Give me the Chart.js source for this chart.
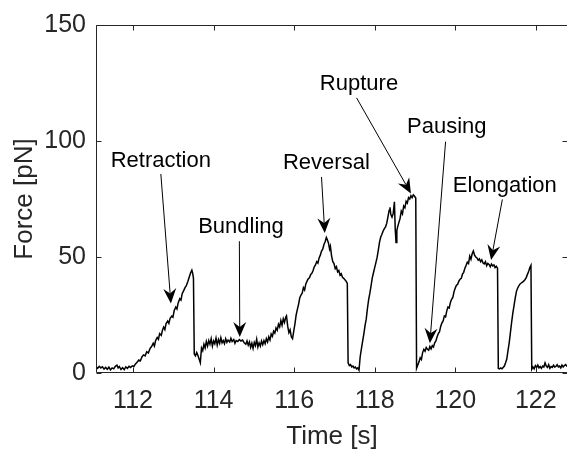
<!DOCTYPE html>
<html>
<head>
<meta charset="utf-8">
<script src="https://cdn.jsdelivr.net/npm/chart.js@4/dist/chart.umd.min.js"></script>
<style>
  html, body { margin: 0; padding: 0; background: #fff; overflow: hidden; }
  #wrap { width: 580px; height: 450px; }
</style>
</head>
<body>
<div id="wrap"><canvas id="c" width="580" height="450"></canvas></div>
<script>
// Optical-trap force trace: time in seconds, force in piconewtons
const timeS = [
  111.08,111.12,111.16,111.20,111.24,111.28,111.32,111.36,111.40,111.44,111.48,111.52,111.56,111.60,111.63,111.66,
  111.70,111.74,111.78,111.82,111.86,111.90,111.94,111.98,112.02,112.06,112.10,112.14,112.18,112.22,112.26,112.30,
  112.34,112.38,112.42,112.46,112.50,112.53,112.56,112.60,112.63,112.66,112.70,112.73,112.76,112.79,112.82,112.86,
  112.89,112.92,112.96,112.99,113.02,113.06,113.09,113.12,113.16,113.19,113.22,113.26,113.29,113.32,113.36,113.40,
  113.43,113.46,113.48,113.50,113.52,113.55,113.58,113.61,113.64,113.67,113.70,113.73,113.76,113.79,113.82,113.85,
  113.88,113.91,113.94,113.97,114.00,114.03,114.06,114.09,114.12,114.15,114.18,114.21,114.24,114.27,114.30,114.33,
  114.36,114.40,114.43,114.46,114.50,114.53,114.56,114.60,114.64,114.68,114.72,114.76,114.80,114.83,114.86,114.89,
  114.92,114.95,114.98,115.01,115.04,115.07,115.10,115.13,115.16,115.19,115.22,115.25,115.28,115.31,115.34,115.37,
  115.40,115.43,115.46,115.49,115.52,115.55,115.58,115.61,115.64,115.67,115.70,115.73,115.76,115.79,115.81,115.84,
  115.87,115.90,115.93,115.96,115.99,116.02,116.05,116.08,116.11,116.14,116.17,116.20,116.23,116.26,116.29,116.32,
  116.35,116.38,116.41,116.44,116.47,116.50,116.53,116.56,116.59,116.62,116.65,116.68,116.71,116.74,116.77,116.80,
  116.82,116.85,116.88,116.90,116.93,116.96,116.99,117.02,117.05,117.08,117.11,117.14,117.17,117.20,117.23,117.26,
  117.29,117.32,117.34,117.37,117.40,117.43,117.46,117.49,117.52,117.55,117.58,117.61,117.64,117.67,117.70,117.73,
  117.76,117.79,117.82,117.85,117.88,117.91,117.94,117.97,118.00,118.03,118.06,118.09,118.12,118.15,118.18,118.21,
  118.24,118.27,118.30,118.33,118.36,118.38,118.40,118.43,118.46,118.49,118.51,118.53,118.55,118.57,118.60,118.63,
  118.66,118.69,118.72,118.75,118.78,118.81,118.84,118.87,118.90,118.93,118.96,118.99,119.02,119.04,119.07,119.10,
  119.13,119.16,119.19,119.22,119.25,119.28,119.31,119.34,119.37,119.40,119.43,119.46,119.49,119.52,119.55,119.58,
  119.61,119.64,119.67,119.70,119.73,119.76,119.79,119.82,119.85,119.88,119.91,119.94,119.97,120.00,120.03,120.06,
  120.09,120.12,120.15,120.18,120.21,120.24,120.27,120.30,120.33,120.36,120.39,120.42,120.45,120.48,120.51,120.54,
  120.57,120.60,120.63,120.66,120.69,120.72,120.75,120.78,120.81,120.84,120.87,120.90,120.93,120.96,120.99,121.02,
  121.05,121.07,121.10,121.13,121.16,121.19,121.22,121.25,121.28,121.31,121.34,121.37,121.40,121.43,121.46,121.49,
  121.52,121.55,121.58,121.61,121.64,121.67,121.70,121.73,121.76,121.79,121.82,121.85,121.88,121.90,121.93,121.96,
  121.99,122.02,122.05,122.08,122.11,122.14,122.17,122.20,122.23,122.26,122.29,122.32,122.35,122.38,122.41,122.44,
  122.47,122.50,122.53,122.56,122.59,122.62,122.65,122.68,122.71,122.74,122.77,122.80,122.83
];
const forcePN = [
  2.8,2.0,2.9,2.2,2.7,1.7,2.4,1.6,2.5,1.3,2.2,1.8,2.9,3.4,2.2,2.8,
  1.5,2.3,1.4,2.6,2.0,2.9,2.4,3.1,2.8,3.9,4.6,5.6,5.2,6.9,7.8,7.4,
  9.2,8.6,10.5,11.4,12.8,11.6,14.0,15.3,14.5,17.0,16.2,18.4,19.8,18.7,21.3,22.4,
  21.4,23.6,24.5,24.0,26.8,28.4,27.6,30.2,32.0,31.4,34.2,35.6,36.8,37.5,39.4,41.6,
  43.2,44.3,43.0,40.8,8.2,7.4,8.8,7.6,6.0,4.4,10.8,9.6,12.4,10.8,13.6,11.6,
  14.0,12.4,14.8,11.6,13.8,12.6,15.0,12.0,14.4,12.8,15.2,13.0,14.0,12.6,14.8,13.2,
  14.2,13.4,15.0,13.6,14.4,12.8,14.0,13.6,14.4,13.8,14.2,13.0,12.4,13.8,12.0,13.4,
  11.0,12.8,10.6,13.2,11.8,14.6,11.2,13.0,11.6,13.8,12.2,14.0,12.6,14.8,13.4,15.6,
  14.2,16.8,15.8,18.0,17.2,19.4,18.4,21.0,19.8,22.6,20.6,23.4,21.8,24.0,24.6,20.2,
  17.4,18.6,15.6,14.8,18.0,21.2,25.0,27.4,29.6,32.4,33.6,34.4,36.8,35.8,38.4,39.6,
  40.6,41.0,42.4,43.0,44.2,45.8,46.6,48.0,47.4,49.6,50.8,52.6,53.4,55.4,56.6,58.4,
  57.6,56.2,53.4,54.6,50.4,48.0,47.2,45.0,45.8,43.6,44.2,42.2,42.8,41.2,40.8,40.2,
  39.6,38.6,4.4,3.2,3.6,2.6,3.0,2.2,2.6,1.8,2.2,1.2,7.0,10.4,13.6,16.8,
  20.4,23.2,27.8,31.6,34.4,37.6,41.0,43.2,45.4,47.6,49.8,53.0,56.4,58.6,59.8,61.2,
  62.2,63.0,64.6,67.4,70.2,71.4,68.4,67.2,68.8,73.8,62.0,56.2,61.4,63.0,64.8,66.6,
  69.8,68.6,72.0,71.2,74.0,73.2,75.6,75.0,76.4,75.6,76.8,76.2,75.4,2.0,3.4,4.8,
  6.6,5.8,8.8,10.2,9.4,11.0,10.2,9.8,11.4,10.4,11.8,11.2,13.0,13.8,15.6,17.0,
  17.8,20.2,21.6,22.4,24.6,24.2,26.8,28.4,28.0,30.4,31.8,32.6,35.0,36.6,37.8,38.2,
  39.6,40.4,40.8,42.6,43.4,45.2,46.4,47.8,47.2,50.4,49.0,51.4,52.6,50.8,50.0,49.6,
  48.6,49.2,48.0,48.8,47.4,47.0,48.0,46.2,47.2,46.8,45.8,47.0,46.2,46.6,45.4,46.0,
  45.2,2.0,1.8,2.2,1.8,2.4,3.0,4.4,6.0,9.6,13.0,17.4,21.8,25.8,29.0,32.4,
  35.2,36.6,37.6,38.4,38.8,39.2,39.6,40.2,41.0,42.4,43.6,45.4,46.4,1.6,2.6,1.8,
  3.2,2.4,3.4,2.2,2.8,2.0,3.0,2.6,4.4,3.0,2.4,3.6,2.0,2.8,2.4,3.4,
  2.6,2.8,3.6,2.6,3.0,2.2,3.4,2.6,3.2,3.6,3.0,3.4,2.8
];

const xTickVals = [112, 114, 116, 118, 120, 122];
const yTickVals = [0, 50, 100, 150];

// Event annotations: label centre, arrow tail, arrow tip (s, pN)
const eventNames = ['Retraction', 'Bundling', 'Reversal', 'Rupture', 'Pausing', 'Elongation'];
const eventLabelAt = [[112.69, 91.5], [114.68, 63.0], [116.80, 90.7], [117.61, 124.8], [119.79, 106.2], [121.23, 80.7]];
const eventArrowFrom = [[112.69, 85.8], [114.64, 56.8], [116.68, 84.5], [117.55, 118.6], [119.76, 99.7], [121.17, 74.8]];
const eventArrowTo = [[112.94, 30.0], [114.65, 15.5], [116.76, 60.3], [118.90, 77.4], [119.37, 12.8], [120.89, 48.7]];

const FONT = '"Liberation Sans", Arial, Helvetica, sans-serif';
const AXIS_COLOR = '#262626';

// Box frame with inward ticks, then the labelled arrows
const frameAndEvents = {
  id: 'frameAndEvents',
  afterDatasetsDraw(chart) {
    const { ctx, chartArea: a, scales: { x, y } } = chart;
    const L = Math.round(a.left) + 0.5, R = Math.round(a.right) - 0.5;
    const T = Math.round(a.top) + 0.5, B = Math.round(a.bottom) - 0.5;
    const tick = 5;
    ctx.save();
    ctx.strokeStyle = AXIS_COLOR;
    ctx.lineWidth = 1;
    ctx.beginPath();
    ctx.rect(L, T, R - L, B - T);
    xTickVals.forEach(v => {
      const px = Math.round(x.getPixelForValue(v)) + 0.5;
      ctx.moveTo(px, B); ctx.lineTo(px, B - tick);
      ctx.moveTo(px, T); ctx.lineTo(px, T + tick);
    });
    yTickVals.forEach(v => {
      const py = Math.round(y.getPixelForValue(v)) + 0.5;
      ctx.moveTo(L, py); ctx.lineTo(L + tick, py);
      ctx.moveTo(R, py); ctx.lineTo(R - tick, py);
    });
    ctx.stroke();

    const headLen = 15, headHalf = 6.5, notch = 10;
    eventNames.forEach((name, i) => {
      const x0 = x.getPixelForValue(eventArrowFrom[i][0]), y0 = y.getPixelForValue(eventArrowFrom[i][1]);
      const x1 = x.getPixelForValue(eventArrowTo[i][0]), y1 = y.getPixelForValue(eventArrowTo[i][1]);
      const ang = Math.atan2(y1 - y0, x1 - x0);
      const ux = Math.cos(ang), uy = Math.sin(ang);
      ctx.strokeStyle = '#000';
      ctx.lineWidth = 1;
      ctx.beginPath();
      ctx.moveTo(x0, y0);
      ctx.lineTo(x1 - ux * notch, y1 - uy * notch);
      ctx.stroke();
      ctx.fillStyle = '#000';
      ctx.beginPath();
      ctx.moveTo(x1, y1);
      ctx.lineTo(x1 - ux * headLen - uy * headHalf, y1 - uy * headLen + ux * headHalf);
      ctx.lineTo(x1 - ux * notch, y1 - uy * notch);
      ctx.lineTo(x1 - ux * headLen + uy * headHalf, y1 - uy * headLen - ux * headHalf);
      ctx.closePath();
      ctx.fill();

      ctx.font = '22px ' + FONT;
      ctx.textAlign = 'center';
      ctx.textBaseline = 'middle';
      ctx.fillText(name, x.getPixelForValue(eventLabelAt[i][0]), y.getPixelForValue(eventLabelAt[i][1]));
    });
    ctx.restore();
  }
};

new Chart(document.getElementById('c'), {
  type: 'line',
  data: {
    datasets: [{
      data: timeS.map((t, i) => ({ x: t, y: forcePN[i] })),
      borderColor: '#000',
      borderWidth: 1.5,
      pointRadius: 0,
      tension: 0,
      fill: false
    }]
  },
  options: {
    responsive: false,
    animation: false,
    events: [],
    layout: { padding: { top: 21, right: 12, left: 0, bottom: 0 } },
    plugins: { legend: { display: false }, tooltip: { enabled: false } },
    scales: {
      x: {
        type: 'linear',
        min: 111.08,
        max: 122.8,
        afterBuildTicks: s => { s.ticks = xTickVals.map(v => ({ value: v })); },
        afterFit: s => { s.height = 77; },
        grid: { display: false, drawTicks: false },
        border: { display: false },
        ticks: {
          autoSkip: false, maxRotation: 0, padding: 13,
          color: AXIS_COLOR,
          font: { family: FONT, size: 25 },
          callback: v => String(v)
        },
        title: {
          display: true, text: 'Time [s]', color: AXIS_COLOR,
          font: { family: FONT, size: 26, lineHeight: 1 },
          padding: { top: 0, bottom: 0 }
        }
      },
      y: {
        type: 'linear',
        min: 0,
        max: 150,
        afterBuildTicks: s => { s.ticks = yTickVals.map(v => ({ value: v })); },
        afterFit: s => { s.width = 96; },
        grid: { display: false, drawTicks: false },
        border: { display: false },
        ticks: {
          autoSkip: false, padding: 10,
          color: AXIS_COLOR,
          font: { family: FONT, size: 25 },
          callback: v => String(v)
        },
        title: {
          display: true, text: 'Force [pN]', color: AXIS_COLOR,
          font: { family: FONT, size: 26, lineHeight: 1 },
          padding: { top: 12, bottom: 0 }
        }
      }
    }
  },
  plugins: [frameAndEvents]
});
</script>
</body>
</html>
